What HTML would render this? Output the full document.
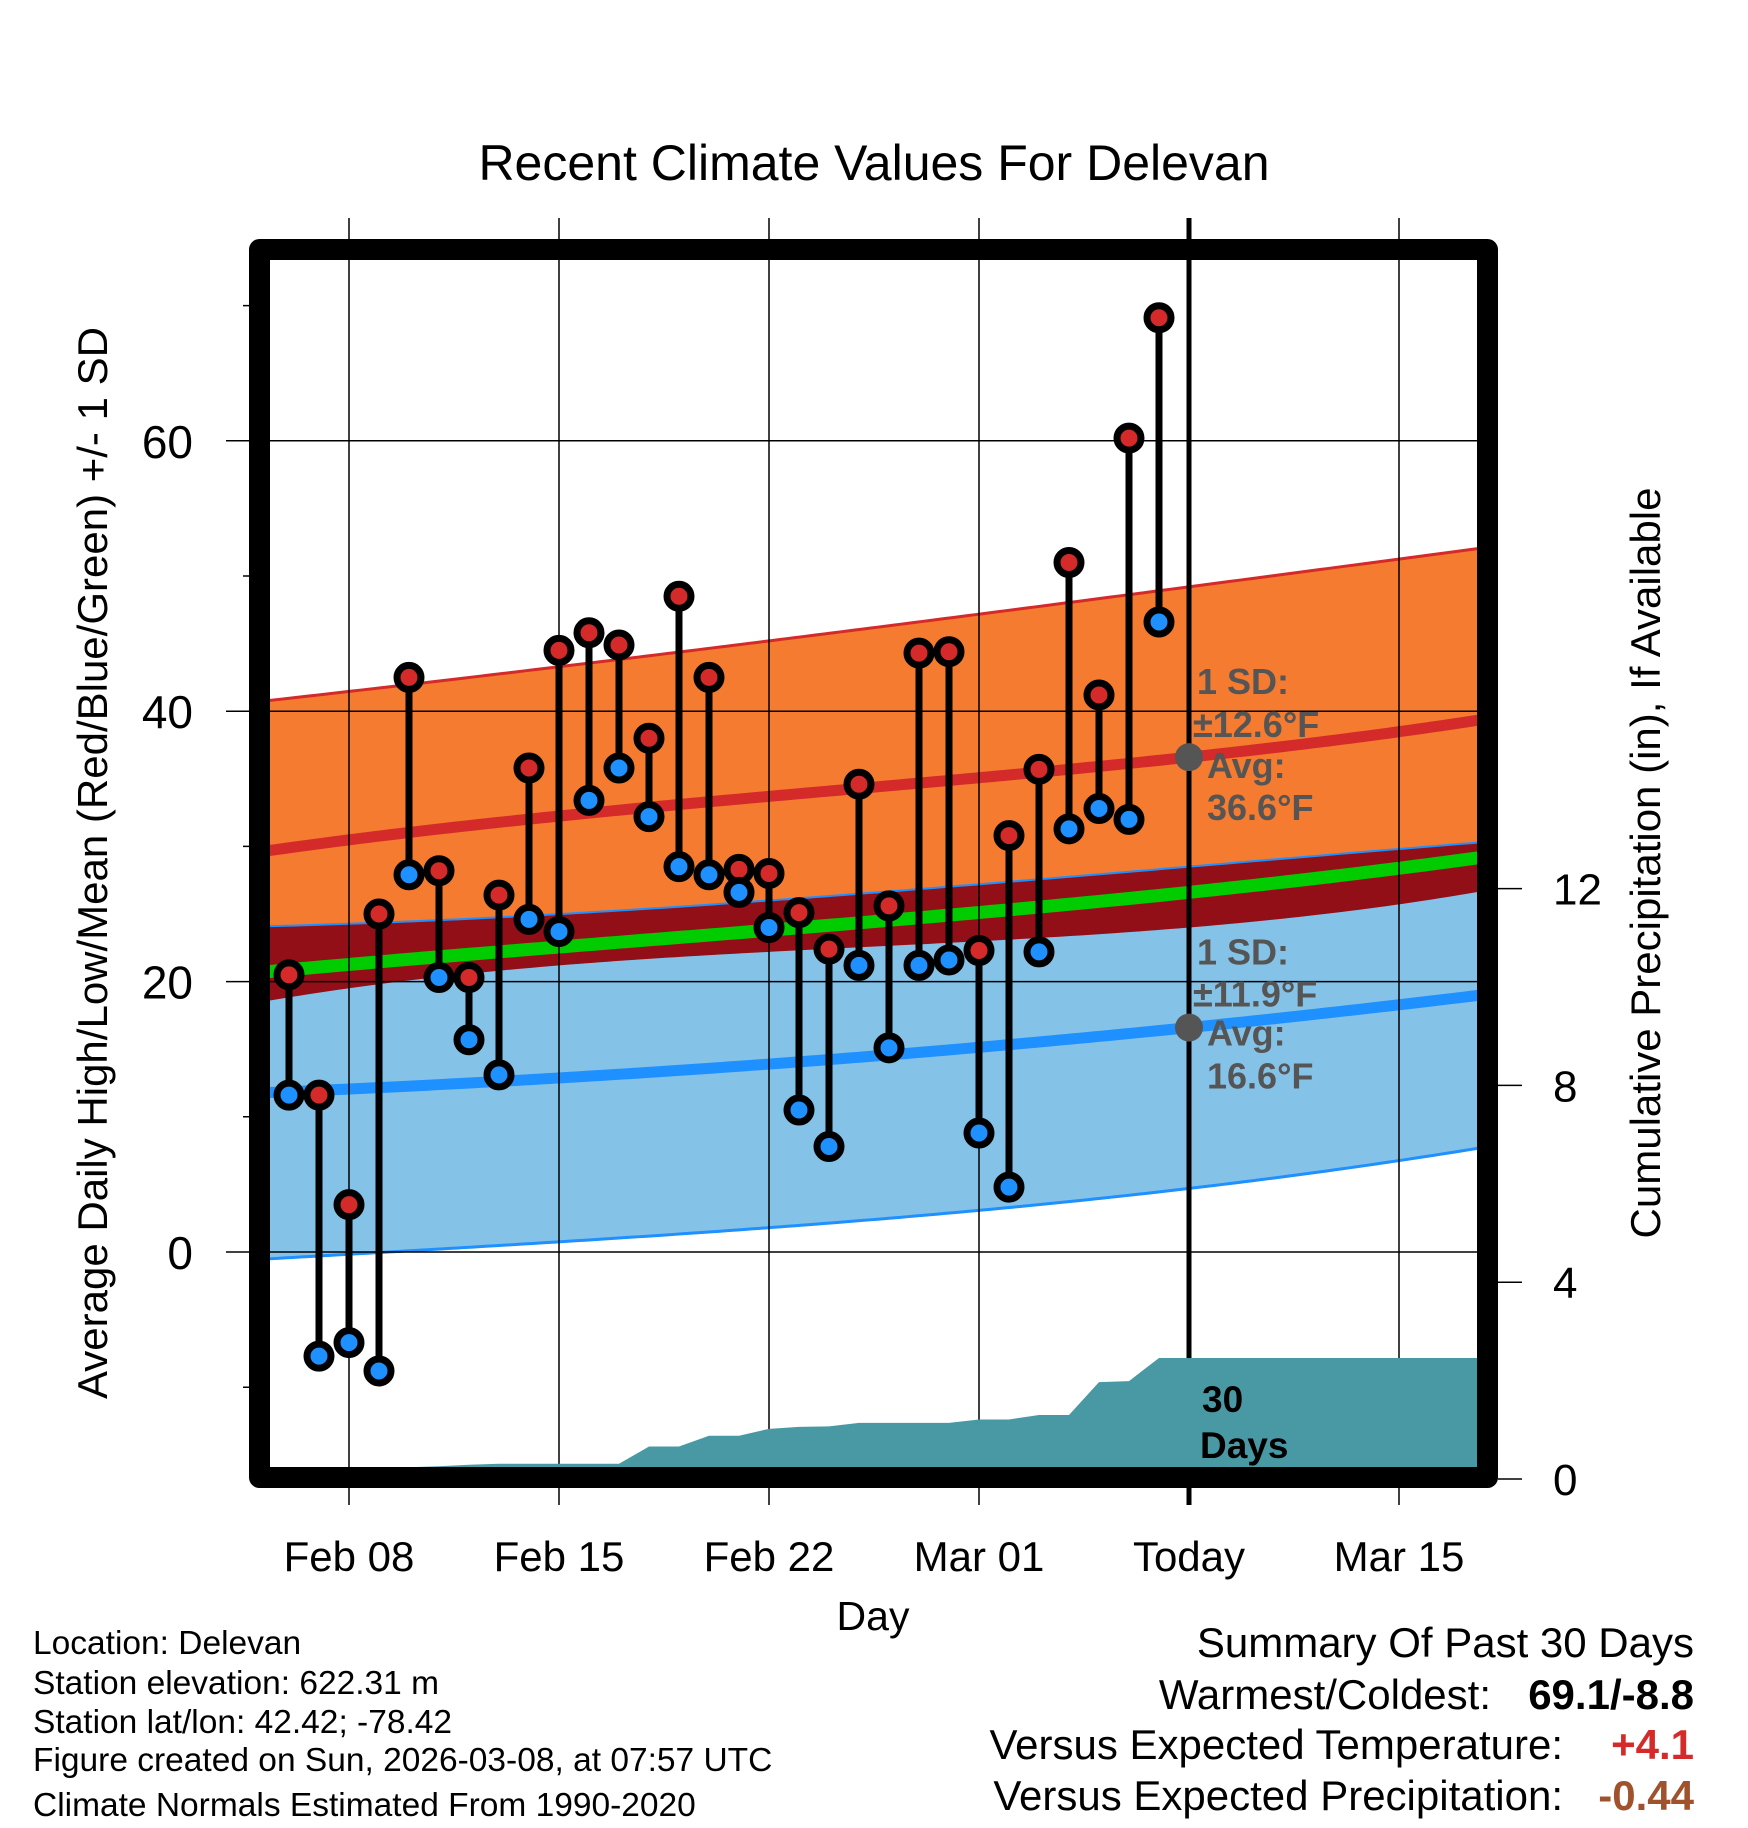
<!DOCTYPE html>
<html><head><meta charset="utf-8"><title>Recent Climate Values For Delevan</title>
<style>
html,body{margin:0;padding:0;background:#fff;}
svg{display:block;font-family:"Liberation Sans",Arial,sans-serif;}
</style></head>
<body>
<svg id="chart" width="1748" height="1828" viewBox="0 0 1748 1828" xmlns="http://www.w3.org/2000/svg">
<defs><clipPath id="plotclip"><rect x="270" y="260" width="1208" height="1208"/></clipPath></defs>
<g id="bands" clip-path="url(#plotclip)"></g>
<g id="grid"></g>
<g id="precip" clip-path="url(#plotclip)"></g>
<g id="series"></g>
<g id="annot"></g>
<rect x="259.5" y="249.5" width="1228" height="1228" fill="none" stroke="#000" stroke-width="21" stroke-linejoin="round"/>
<g id="axes"></g>
<text x="874" y="180" font-size="50" text-anchor="middle">Recent Climate Values For Delevan</text>
<text x="873" y="1630" font-size="41" text-anchor="middle">Day</text>
<text transform="translate(107,863) rotate(-90)" font-size="42" text-anchor="middle">Average Daily High/Low/Mean (Red/Blue/Green) +/- 1 SD</text>
<text transform="translate(1660,863) rotate(-90)" font-size="42" text-anchor="middle">Cumulative Precipitation (in), If Available</text>
<g font-size="33.5">
<text x="33" y="1654">Location: Delevan</text>
<text x="33" y="1694">Station elevation: 622.31 m</text>
<text x="33" y="1733">Station lat/lon: 42.42; -78.42</text>
<text x="33" y="1771">Figure created on Sun, 2026-03-08, at 07:57 UTC</text>
<text x="33" y="1816">Climate Normals Estimated From 1990-2020</text>
</g>
<g font-size="42">
<text x="1694" y="1657" text-anchor="end">Summary Of Past 30 Days</text>
<text x="1491" y="1709" text-anchor="end">Warmest/Coldest:</text>
<text x="1694" y="1709" text-anchor="end" font-weight="bold">69.1/-8.8</text>
<text x="1563" y="1759" text-anchor="end">Versus Expected Temperature:</text>
<text x="1694" y="1759" text-anchor="end" font-weight="bold" fill="#d42a2a">+4.1</text>
<text x="1563" y="1810" text-anchor="end">Versus Expected Precipitation:</text>
<text x="1694" y="1810" text-anchor="end" font-weight="bold" fill="#a0522d">-0.44</text>
</g>
</svg>
<script>
// Observed data, Feb 6 .. Mar 7 (day offset from Feb 08)
const dayOffsets = [-2,-1,0,1,2,3,4,5,6,7,8,9,10,11,12,13,14,15,16,17,18,19,20,21,22,23,24,25,26,27];
const highs = [20.5,11.6,3.5,25.0,42.5,28.2,20.3,26.4,35.8,44.5,45.8,44.9,38.0,48.5,42.5,28.3,28.0,25.1,22.4,34.6,25.6,44.3,44.4,22.3,30.8,35.7,51.0,41.2,60.2,69.1];
const lows = [11.6,-7.7,-6.7,-8.8,27.9,20.3,15.7,13.1,24.6,23.7,33.4,35.8,32.2,28.5,27.9,26.6,24.0,10.5,7.8,21.2,15.1,21.2,21.6,8.8,4.8,22.2,31.3,32.8,32.0,46.6];
const precipCum = [0,0,0,0,0.24,0.26,0.29,0.31,0.31,0.31,0.31,0.31,0.66,0.66,0.88,0.88,1.02,1.06,1.07,1.14,1.14,1.14,1.14,1.21,1.21,1.30,1.30,1.97,1.99,2.46];
// Normals at anchor days
const normalDays = [-2.63,14,28,40.6];
const normHighMean = [29.7,33.7,36.6,40.4];
const normHighSD = [11.1,11.5,12.6,12.5];
const normLowMean = [11.8,13.9,16.6,19.8];
const normLowSD = [12.3,12.1,11.9,11.0];
// Axes
const xTickDays = [0,7,14,21,28,35];
const xTickLabels = ["Feb 08","Feb 15","Feb 22","Mar 01","Today","Mar 15"];
const yTicks = [0,20,40,60];
const yMinorTicks = [-10,10,30,50,70];
const pTicks = [0,4,8,12];
const todayDay = 28;

const NS="http://www.w3.org/2000/svg";
const X0=270,X1=1478,Y0=260,Y1=1468;
function xS(d){return 349+30*d;}
function yS(t){return 1252-13.52*t;}
function pS(p){return 1479-49.2*p;}
function mk(tag,attrs,parent){const e=document.createElementNS(NS,tag);for(const k in attrs)e.setAttribute(k,attrs[k]);parent.appendChild(e);return e;}
function interp(xs,ys,x){let s=0;for(let i=0;i<xs.length;i++){let l=1;for(let j=0;j<xs.length;j++)if(j!==i)l*=(x-xs[j])/(xs[i]-xs[j]);s+=ys[i]*l;}return s;}

const bands=document.getElementById('bands');
const dStart=(X0-349)/30-0.5,dEnd=(X1-349)/30+0.5;
const ds=[];for(let d=dStart;d<=dEnd+0.001;d+=0.25)ds.push(d);
function curve(f){return ds.map(d=>[xS(d),yS(f(d))]);}
function hm(d){return interp(normalDays,normHighMean,d);}
function hs(d){return interp(normalDays,normHighSD,d);}
function lm(d){return interp(normalDays,normLowMean,d);}
function ls(d){return interp(normalDays,normLowSD,d);}
function poly(top,bot){return top.map(p=>p.join(',')).join(' ')+' '+bot.slice().reverse().map(p=>p.join(',')).join(' ');}
function pl(pts){return pts.map(p=>p.join(',')).join(' ');}
const hTop=curve(d=>hm(d)+hs(d)),hBot=curve(d=>hm(d)-hs(d));
const lTop=curve(d=>lm(d)+ls(d)),lBot=curve(d=>lm(d)-ls(d));
let e;
e=mk('polygon',{points:poly(hTop,hBot),fill:'#f47b2f'},bands);

e=mk('polygon',{points:poly(lTop,lBot),fill:'#85c2e8'},bands);

e=mk('polygon',{points:poly(lTop,hBot),fill:'#930f18'},bands);

e=mk('polyline',{points:pl(curve(d=>(hm(d)+lm(d))/2)),fill:'none',stroke:'#00cc00','stroke-width':13},bands);

e=mk('polyline',{points:pl(hTop),fill:'none',stroke:'#d42a2a','stroke-width':3},bands);

e=mk('polyline',{points:pl(lTop),fill:'none',stroke:'#1e90ff','stroke-width':2},bands);

e=mk('polyline',{points:pl(lBot),fill:'none',stroke:'#1e90ff','stroke-width':3},bands);

e=mk('polyline',{points:pl(curve(hm)),fill:'none',stroke:'#d42a2a','stroke-width':11},bands);

e=mk('polyline',{points:pl(curve(lm)),fill:'none',stroke:'#1e90ff','stroke-width':11},bands);


// grid
const grid=document.getElementById('grid');
xTickDays.forEach(d=>{
  const g=mk('line',{x1:xS(d),x2:xS(d),y1:218,y2:1505,stroke:'#000','stroke-width':1.5},grid);
  
});
yTicks.forEach(t=>{
  const g=mk('line',{x1:226,x2:X1,y1:yS(t),y2:yS(t),stroke:'#000','stroke-width':1.5},grid);
  
});
yMinorTicks.forEach(t=>{
  const g=mk('line',{x1:243,x2:260,y1:yS(t),y2:yS(t),stroke:'#000','stroke-width':1.5},grid);
  
});

// precip
const pr=document.getElementById('precip');
let pp=[[xS(dayOffsets[0]),pS(0)]];
dayOffsets.forEach((d,i)=>pp.push([xS(d),pS(precipCum[i])]));
pp.push([X1+20,pS(precipCum[precipCum.length-1])]);
pp.push([X1+20,pS(0)+30]);pp.push([xS(dayOffsets[0]),pS(0)+30]);
e=mk('polygon',{points:pl(pp),fill:'#4899a3'},pr);


// today line
e=mk('line',{x1:xS(todayDay),x2:xS(todayDay),y1:218,y2:1505,stroke:'#000','stroke-width':5},grid);


// series
const ser=document.getElementById('series');
dayOffsets.forEach((d,i)=>{
  const s=mk('line',{x1:xS(d),x2:xS(d),y1:yS(highs[i]),y2:yS(lows[i]),stroke:'#000','stroke-width':7},ser);
  
});
dayOffsets.forEach((d,i)=>{
  const h=mk('circle',{cx:xS(d),cy:yS(highs[i]),r:12,fill:'#d42a2a',stroke:'#000','stroke-width':7},ser);
  
  const l=mk('circle',{cx:xS(d),cy:yS(lows[i]),r:12,fill:'#1e90ff',stroke:'#000','stroke-width':7},ser);
  
});

// annotations
const an=document.getElementById('annot');
const hT=hm(todayDay),lT=lm(todayDay);
e=mk('circle',{cx:xS(todayDay),cy:yS(hT),r:14,fill:'#555'},an);

e=mk('circle',{cx:xS(todayDay),cy:yS(lT),r:14,fill:'#555'},an);

function atext(x,y,s,name){const t=mk('text',{x:x,y:y,'font-size':36,'font-weight':'bold',fill:'#555'},an);t.textContent=s;return t;}
const hy=yS(hT),ly=yS(lT);
atext(1197,hy+(694-757),'1 SD:','high-sd-label');
atext(1193,hy+(737-757),'±'+hs(todayDay).toFixed(1)+'°F','high-sd-value');
atext(1207,hy+(778-757),'Avg:','high-avg-label');
atext(1207,hy+(820-757),' '+hT.toFixed(1)+'°F','high-avg-value');
atext(1197,ly+(965-1028),'1 SD:','low-sd-label');
atext(1193,ly+(1007-1028),'±'+ls(todayDay).toFixed(1)+'°F','low-sd-value');
atext(1207,ly+(1046-1028),'Avg:','low-avg-label');
atext(1207,ly+(1089-1028),' '+lT.toFixed(1)+'°F','low-avg-value');
let t=mk('text',{x:1202,y:1412,'font-size':37,'font-weight':'bold'},an);t.textContent='30';

t=mk('text',{x:1200,y:1458,'font-size':37,'font-weight':'bold'},an);t.textContent='Days';


// axis labels
const ax=document.getElementById('axes');
xTickDays.forEach((d,i)=>{
  const l=mk('text',{x:xS(d),y:1571,'font-size':42,'text-anchor':'middle'},ax);l.textContent=xTickLabels[i];
  
});
yTicks.forEach(v=>{
  const l=mk('text',{x:193,y:yS(v)+17,'font-size':46,'text-anchor':'end'},ax);l.textContent=v;
  
});
pTicks.forEach(v=>{
  const k=mk('line',{x1:1498,x2:1522,y1:pS(v),y2:pS(v),stroke:'#000','stroke-width':1.5},ax);
  
  const l=mk('text',{x:1553,y:pS(v)+16,'font-size':44},ax);l.textContent=v;
  
});
</script>
</body></html>
